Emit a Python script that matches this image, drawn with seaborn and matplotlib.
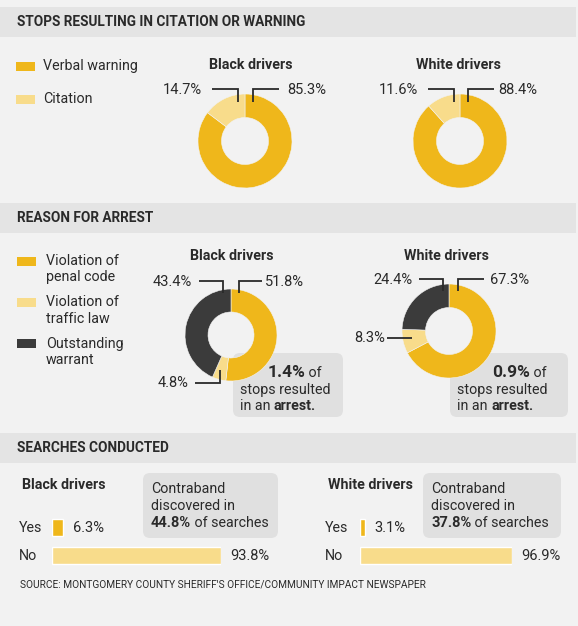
import numpy as np
import pandas as pd
import matplotlib.pyplot as plt
import seaborn as sns
from matplotlib.patches import Rectangle, FancyBboxPatch

stop_outcomes = ["Verbal warning", "Citation"]
stops_black = [85.3, 14.7]
stops_white = [88.4, 11.6]

arrest_reasons = ["Violation of\npenal code", "Violation of\ntraffic law", "Outstanding\nwarrant"]
arrest_black = [51.8, 4.8, 43.4]
arrest_white = [67.3, 8.3, 24.4]
arrest_share = [1.4, 0.9]          # % of stops that ended in arrest (black, white)

search_answers = ["Yes", "No"]
search_black = [6.3, 93.8]
search_white = [3.1, 96.9]
contraband_share = [44.8, 37.8]    # % of searches with contraband (black, white)

GOLD = "#efb71b"
LIGHT = "#f8dc8b"
DARK = "#3b3b3b"
BG = "#f2f2f2"
BAND = "#e4e4e4"
BOX = "#e0e0e0"
INK = "#2a2a2a"

W, H = 578, 626

sns.set_theme(style="white")
plt.rcParams["font.family"] = ["Roboto", "DejaVu Sans"]

fig = plt.figure(figsize=(W / 100, H / 100), dpi=100, facecolor=BG)


def px_axes(x0, y0, w, h, z):
    a = fig.add_axes([x0 / W, 1 - (y0 + h) / H, w / W, h / H])
    a.set_zorder(z)
    a.patch.set_alpha(0)
    return a


back = px_axes(0, 0, W, H, 0)
front = px_axes(0, 0, W, H, 10)
for a in (back, front):
    a.set_xlim(0, W)
    a.set_ylim(H, 0)
    a.axis("off")


def txt(x, y, s, size=10.3, weight="normal", ha="left", va="center"):
    return front.text(x, y, s, fontsize=size, fontweight=weight, ha=ha, va=va, color=INK)


def rich_line(x, y, parts, ha="left"):
    # parts: list of (text, size, weight); drawn one after another on a shared baseline
    t = front.text(x, y, parts[0][0], fontsize=parts[0][1], fontweight=parts[0][2],
                   ha=ha, va="baseline", color=INK)
    for s, size, weight in parts[1:]:
        t = front.annotate(s, xy=(1, y), xycoords=(t, "data"), fontsize=size,
                           fontweight=weight, ha="left", va="baseline", color=INK)
    return t


def donut(cx, cy, r, values, colors):
    a = px_axes(cx - r, cy - r, 2 * r, 2 * r, 5)
    a.pie(values, colors=colors, startangle=90, counterclock=False, radius=1,
          wedgeprops=dict(width=0.5, edgecolor=BG, linewidth=0.4))
    a.set_xlim(-1, 1)
    a.set_ylim(-1, 1)
    a.set_aspect("equal")
    a.axis("off")
    return a


def leader(points):
    xs, ys = zip(*points)
    front.plot(xs, ys, color=INK, lw=1.3, solid_capstyle="butt", solid_joinstyle="miter")


# ---- section header bands ----
headers = ["STOPS RESULTING IN CITATION OR WARNING", "REASON FOR ARREST", "SEARCHES CONDUCTED"]
for title, (top, bottom) in zip(headers, [(7, 37), (203, 233), (433, 463)]):
    back.add_patch(Rectangle((0, top), 576, bottom - top, color=BAND, lw=0))
    txt(17, (top + bottom) / 2, title, size=9.8, weight="bold")

# ---- section 1: citation / warning ----
for i, (lab, col) in enumerate(zip(stop_outcomes, [GOLD, LIGHT])):
    y = 66 + i * 33
    back.add_patch(Rectangle((16, y - 4.5), 19, 9, color=col, lw=0))
    txt(43, y, lab)

stop_colors = [GOLD, LIGHT]
txt(251, 65, "Black drivers", weight="bold", ha="center")
donut(245, 141, 47, stops_black, stop_colors)
txt(202, 90, f"{stops_black[1]}%", size=10.5, ha="right")
leader([(212, 89), (238, 89), (238, 102)])
txt(287, 90, f"{stops_black[0]}%", size=10.5)
leader([(253, 102), (253, 89), (279, 89)])

txt(458, 65, "White drivers", weight="bold", ha="center")
donut(460, 141, 47, stops_white, stop_colors)
txt(418, 90, f"{stops_white[1]}%", size=10.5, ha="right")
leader([(428, 89), (454, 89), (454, 102)])
txt(498, 90, f"{stops_white[0]}%", size=10.5)
leader([(468, 102), (468, 89), (494, 89)])

# ---- section 2: reason for arrest ----
arrest_colors = [GOLD, LIGHT, DARK]
for i, (lab, col) in enumerate(zip(arrest_reasons, arrest_colors)):
    y = 261 + i * 41.3
    back.add_patch(Rectangle((17, y - 4.5), 19, 9, color=col, lw=0))
    for j, line in enumerate(lab.split("\n")):
        txt(46, y + j * 16.5, line)

txt(232, 256, "Black drivers", weight="bold", ha="center")
donut(231, 335, 46, arrest_black, arrest_colors)
txt(192, 282, f"{arrest_black[2]}%", size=10.5, ha="right")
leader([(199, 281), (223, 281), (223, 293)])
txt(265, 282, f"{arrest_black[0]}%", size=10.5)
leader([(239, 293), (239, 281), (262, 281)])
txt(188, 383, f"{arrest_black[1]}%", size=10.5, ha="right")
leader([(195, 383), (220, 383), (220, 370)])

txt(446, 256, "White drivers", weight="bold", ha="center")
donut(449, 331, 47, arrest_white, arrest_colors)
txt(413, 280, f"{arrest_white[2]}%", size=10.5, ha="right")
leader([(419, 279), (443, 279), (443, 291)])
txt(490, 280, f"{arrest_white[0]}%", size=10.5)
leader([(458, 291), (458, 279), (484, 279)])
txt(385, 338, f"{arrest_white[1]}%", size=10.5, ha="right")
leader([(387, 338), (412, 338)])

for (x0, x1), share in zip([(233, 343), (450, 568)], arrest_share):
    back.add_patch(FancyBboxPatch((x0, 353), x1 - x0, 64, color=BOX, lw=0,
                                  boxstyle="round,pad=0,rounding_size=7"))
    rich_line(x1 - 38, 377, [(f"{share}%", 12.5, "bold"), (" of", 10.3, "normal")], ha="right")
    txt(x0 + 7, 390, "stops resulted")
    rich_line(x0 + 7, 410, [("in an ", 10.3, "normal"), ("arrest.", 10.3, "bold")])

# ---- section 3: searches ----
search_panels = [
    ("Black drivers", search_black, contraband_share[0], 22, 52, 169, (143, 278)),
    ("White drivers", search_white, contraband_share[1], 328, 360, 152, (423, 561)),
]
for name, vals, found, x_lab, x_bar, w_bar, (bx0, bx1) in search_panels:
    txt(x_lab, 485, name, weight="bold")
    back.add_patch(FancyBboxPatch((bx0, 473), bx1 - bx0, 65, color=BOX, lw=0,
                                  boxstyle="round,pad=0,rounding_size=7"))
    txt(bx0 + 8, 489, "Contraband")
    txt(bx0 + 8, 506, "discovered in")
    rich_line(bx0 + 8, 527, [(f"{found}%", 10.5, "bold"), (" of searches", 10.3, "normal")])

    df = pd.DataFrame({"answer": search_answers, "pct": vals})
    ax = px_axes(x_bar, 513.5, w_bar, 56, 6)
    sns.barplot(data=df, x="pct", y="answer", hue="answer", palette=[GOLD, LIGHT],
                orient="h", width=0.62, saturation=1, legend=False, ax=ax)
    ax.set_xlim(0, max(vals))
    ax.set_ylim(1.5, -0.5)
    ax.axis("off")
    for c in ax.containers:
        ax.bar_label(c, fmt="%.1f%%", padding=7, fontsize=10.5, color=INK)
    for k, ans in enumerate(search_answers):
        txt(x_lab - 3, 527.5 + k * 28, ans)

txt(20, 585, "SOURCE: MONTGOMERY COUNTY SHERIFF'S OFFICE/COMMUNITY IMPACT NEWSPAPER", size=7.3)

fig.savefig("out.png", dpi=100, facecolor=BG)
